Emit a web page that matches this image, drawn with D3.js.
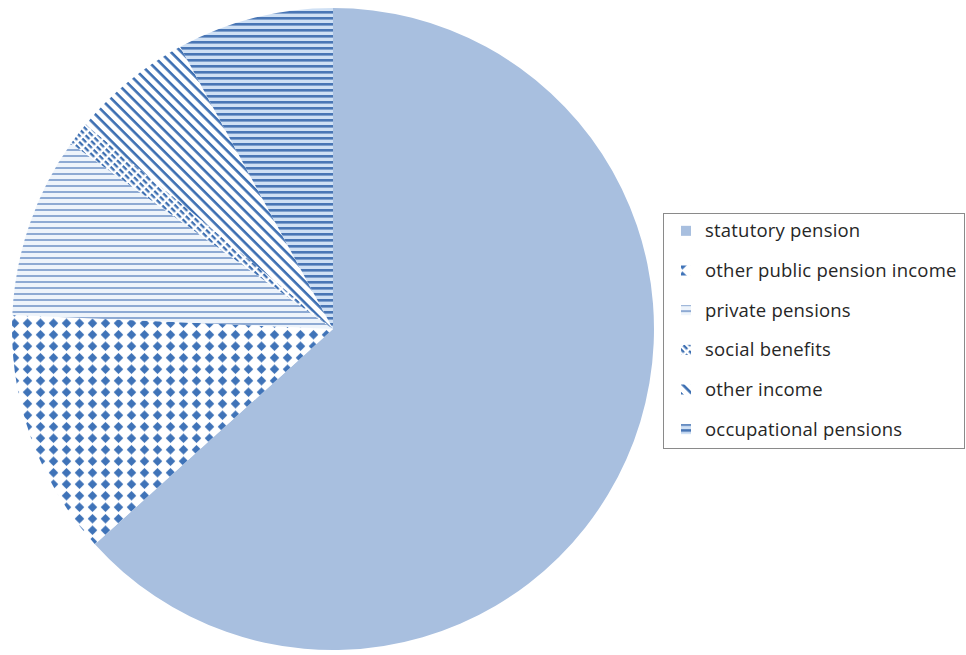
<!DOCTYPE html>
<html>
<head>
<meta charset="utf-8">
<script src="https://cdn.jsdelivr.net/npm/d3@7"></script>
<style>
  body { margin: 0; background: #fff; }
  #graf { width: 966px; height: 655px; }
  .leyenda text { font-family: "Open Sans", sans-serif; font-size: 18.5px; letter-spacing: 0.2px; fill: #262626; }
</style>
</head>
<body>
<div id="graf"></div>
<script>
const categorias = [
  "statutory pension",
  "other public pension income",
  "private pensions",
  "social benefits",
  "other income",
  "occupational pensions",
];
const valores = [63.3, 12.4, 9.1, 1.2, 6.1, 7.9];

const ancho_total = 966;
const alto_total = 655;

const centro = { x: 333, y: 329 };
const radio = 321;

const svg = d3
  .select("#graf")
  .append("svg")
  .attr("width", ancho_total)
  .attr("height", alto_total);

const defs = svg.append("defs");

// patrones de relleno estilo Excel
function patronRayas(id, ancho, periodo, largo, grosor, fondo, color, rot) {
  const p = defs
    .append("pattern")
    .attr("id", id)
    .attr("patternUnits", "userSpaceOnUse")
    .attr("width", ancho)
    .attr("height", periodo);
  if (rot) p.attr("patternTransform", `rotate(${rot})`);
  p.append("rect").attr("width", ancho).attr("height", periodo).attr("fill", fondo);
  p.append("rect").attr("y", 0).attr("width", largo).attr("height", grosor).attr("fill", color);
}

patronRayas("p-privadas", 6, 6, 6, 2, "#eef4fb", "#8eaad3", 0);
patronRayas("p-ocupacional", 6, 6, 6, 2.6, "#cfe0f4", "#4976b5", 0);
patronRayas("p-otros", 7.5, 7.5, 7.5, 2.6, "#ffffff", "#3d6fb2", 45);
patronRayas("p-social", 8, 4.6, 5.5, 2.3, "#ffffff", "#3d6fb2", 45);

const pr = defs
  .append("pattern")
  .attr("id", "p-publica")
  .attr("patternUnits", "userSpaceOnUse")
  .attr("width", 13)
  .attr("height", 11.5);
pr.append("rect").attr("width", 13).attr("height", 11.5).attr("fill", "#fff");
pr.append("path").attr("d", "M6.5,1 L11.3,5.75 L6.5,10.5 L1.7,5.75 Z").attr("fill", "#3f73b8");

const rellenos = [
  "#a8bfdf",
  "url(#p-publica)",
  "url(#p-privadas)",
  "url(#p-social)",
  "url(#p-otros)",
  "url(#p-ocupacional)",
];

const datos = categorias.map((c, i) => ({ nombre: c, valor: valores[i], fill: rellenos[i] }));

const pie = d3.pie().sort(null).value(d => d.valor);
const arco = d3.arc().innerRadius(0).outerRadius(radio);

const g = svg.append("g").attr("transform", `translate(${centro.x}, ${centro.y})`);

g.selectAll("path")
  .data(pie(datos))
  .enter()
  .append("path")
  .attr("d", arco)
  .attr("fill", d => d.data.fill)
  .attr("stroke", "none");

// leyenda
const ley = svg.append("g").attr("class", "leyenda");

ley
  .append("rect")
  .attr("x", 663.5)
  .attr("y", 213.5)
  .attr("width", 301)
  .attr("height", 235)
  .attr("fill", "#fff")
  .attr("stroke", "#8a8a8a")
  .attr("stroke-width", 1);

const fila = d3.scaleBand().domain(categorias).range([211, 449]);

const items = ley
  .selectAll("g.item")
  .data(datos)
  .enter()
  .append("g")
  .attr("class", "item")
  .attr("transform", d => `translate(0, ${fila(d.nombre) + fila.bandwidth() / 2})`);

items
  .append("rect")
  .attr("x", 681)
  .attr("y", -5)
  .attr("width", 10)
  .attr("height", 10)
  .attr("fill", d => d.fill);

items
  .append("text")
  .attr("x", 705)
  .attr("y", 0)
  .attr("dy", "0.35em")
  .text(d => d.nombre);
</script>
</body>
</html>
